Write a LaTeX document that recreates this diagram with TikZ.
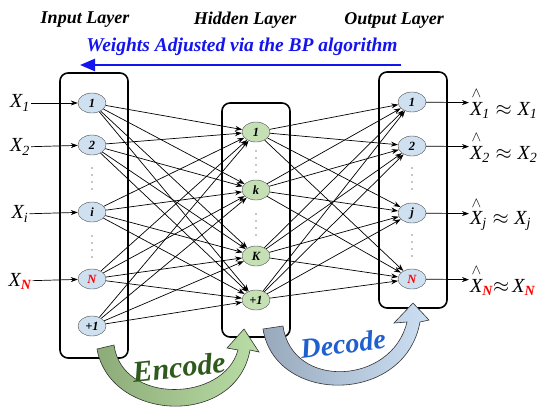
\documentclass[tikz,border=0pt]{standalone}
\usepackage{fontspec}
\setmainfont{Liberation Serif}
\usepackage{amsmath}
\usetikzlibrary{arrows.meta,positioning}
\usetikzlibrary{shapes,shapes.geometric}

\definecolor{inblue}{HTML}{CFE0F1}
\definecolor{hidgreen}{HTML}{C5E0B4}
\definecolor{encdark}{HTML}{8CAB78}
\definecolor{enclight}{HTML}{BADDA6}
\definecolor{decdark}{HTML}{98A9BC}
\definecolor{declight}{HTML}{CDE0F3}
\definecolor{enctext}{HTML}{2E5A1C}
\definecolor{dectext}{HTML}{1F5FD0}
\definecolor{bpblue}{HTML}{1414EE}

\newcommand{\xin}[1]{X\textsubscript{#1}}
\newcommand{\xhat}{\ensuremath{\overset{\wedge}{\text{X}}}}
\newcommand{\xout}[1]{\xhat\textsubscript{#1}\ensuremath{\;\approx\;}X\textsubscript{#1}}

\tikzset{unit/.style={
        draw=black!70, 
        ellipse, 
        minimum height=20pt, 
        minimum width=28pt,
        inner sep=0pt,
        font=\bfseries\itshape\fontsize{12.5}{12.5}\selectfont },
    inunit/.style={unit, fill=inblue},
    hidunit/.style={unit, fill=hidgreen},
    layerbox/.style={draw, rounded corners=8pt, line width=1.6pt, minimum width=68pt},
    layertitle/.style={font=\bfseries\itshape\fontsize{18}{18}\selectfont},
    varlabel/.style={font=\itshape\fontsize{20}{20}\selectfont, inner sep=1pt},
    wire/.style={-{Stealth[length=7pt,width=5pt]}, line width=0.7pt},
    band/.style={draw=black!80, line width=0.6pt},
    lilydots/.style={fill=black!45} }

\begin{document}
\begin{tikzpicture}[x=1pt,y=-1pt]
\useasboundingbox (0,0) rectangle (543,408);

% layer boxes
\node[layerbox, minimum height=285pt] (inbox) at (94,215.5) {};
\node[layerbox, minimum height=234pt] (hidbox) at (256,220) {};
\node[layerbox, minimum height=236pt] (outbox) at (413,190) {};

% titles
\node[layertitle] (tin) at (85,20) {Input Layer};
\node[layertitle] (thid) at (245,20) {Hidden Layer};
\node[layertitle] (tout) at (394,20) {Output Layer};

\node[layertitle, font=\bfseries\itshape\fontsize{19.5}{19.5}\selectfont, text=bpblue] (bp) at (242,47) {Weights Adjusted via the BP algorithm};
\coordinate (bpr) at (401,65);
\coordinate (bpl) at (80,65);
\draw[bpblue, line width=2.6pt, -{Triangle[length=15pt,width=12pt]}] (bpr) -- (bpl);

% input layer
\node[inunit] (in1) at (92,103) {1};
\node[inunit] (in2) at (92,145) {2};
\node[inunit] (ini) at (92,212) {i};
\node[inunit] (inN) at (92,279) {\textcolor{red}{N}};
\node[inunit] (inb) at (92,326) {+1};

% hidden layer
\node[hidunit] (hd1) at (256,132) {1};
\node[hidunit] (hdk) at (256,190) {k};
\node[hidunit] (hdK) at (256,256) {K};
\node[hidunit] (hdb) at (256,300) {+1};

% output layer
\node[inunit] (out1) at (412,102) {1};
\node[inunit] (out2) at (412,146) {2};
\node[inunit] (outj) at (412,213) {j};
\node[inunit] (outN) at (412,279) {\textcolor{red}{N}};

% dots
\foreach \x/\a/\b in {92/168/236, 256/151/214, 412/168/235}
  \foreach \d in {0,7,14,21} {
    \fill[lilydots] (\x,\a+\d) circle (0.9pt);
    \fill[lilydots] (\x,\b+\d) circle (0.9pt);
  }

% inputs and outputs
\node[varlabel] (x1) at (20,103) {\xin{1}};
\node[varlabel] (x2) at (20,147) {\xin{2}};
\node[varlabel] (xi) at (20,214) {\xin{i}};
\node[varlabel] (xN) at (20,281) {\xin{\textbf{\textcolor{red}{N}}}};

\node[varlabel, anchor=west] (y1) at (469,103) {\xout{1}};
\node[varlabel, anchor=west] (y2) at (469,147) {\xout{2}};
\node[varlabel, anchor=west] (yj) at (469,214) {\xout{j}};
\node[varlabel, anchor=west] (yN) at (469,280) {\xhat\textsubscript{\textbf{\textcolor{red}{N}}}\ensuremath{\approx}\,X\textsubscript{\textbf{\textcolor{red}{N}}}};

\path[wire]
(x1) edge (in1)
(x2) edge (in2)
(xi) edge (ini)
(xN) edge (inN)
(out1) edge (y1)
(out2) edge (y2)
(outj) edge (yj)
(outN) edge (yN);

% full connections
\foreach \a in {in1,in2,ini,inN,inb}
  \foreach \b in {hd1,hdk,hdK,hdb}
    \path[wire] (\a) edge (\b);
\foreach \a in {hd1,hdk,hdK,hdb}
  \foreach \b in {out1,out2,outj,outN}
    \path[wire] (\a) edge (\b);

% encode / decode arrows
\draw[band, left color=encdark, right color=enclight]
  (97,349) .. controls (110,422) and (236,428) .. (250,350)
  -- (259,352) -- (244,329) -- (227,348) -- (238,350)
  .. controls (224,402) and (122,405) .. (114,345) -- cycle;
\draw[band, left color=decdark, right color=declight]
  (263,329) .. controls (275,405) and (405,405) .. (420,322)
  -- (429,320) -- (413,303) -- (394,323) -- (407,322)
  .. controls (392,385) and (292,390) .. (283,326) -- cycle;

\node[font=\bfseries\itshape\fontsize{30}{30}\selectfont, text=enctext, rotate=6] (enc) at (179,367) {Encode};
\node[font=\bfseries\itshape\fontsize{28}{28}\selectfont, text=dectext, rotate=7] (dec) at (343,344) {Decode};

\end{tikzpicture}
\end{document}
